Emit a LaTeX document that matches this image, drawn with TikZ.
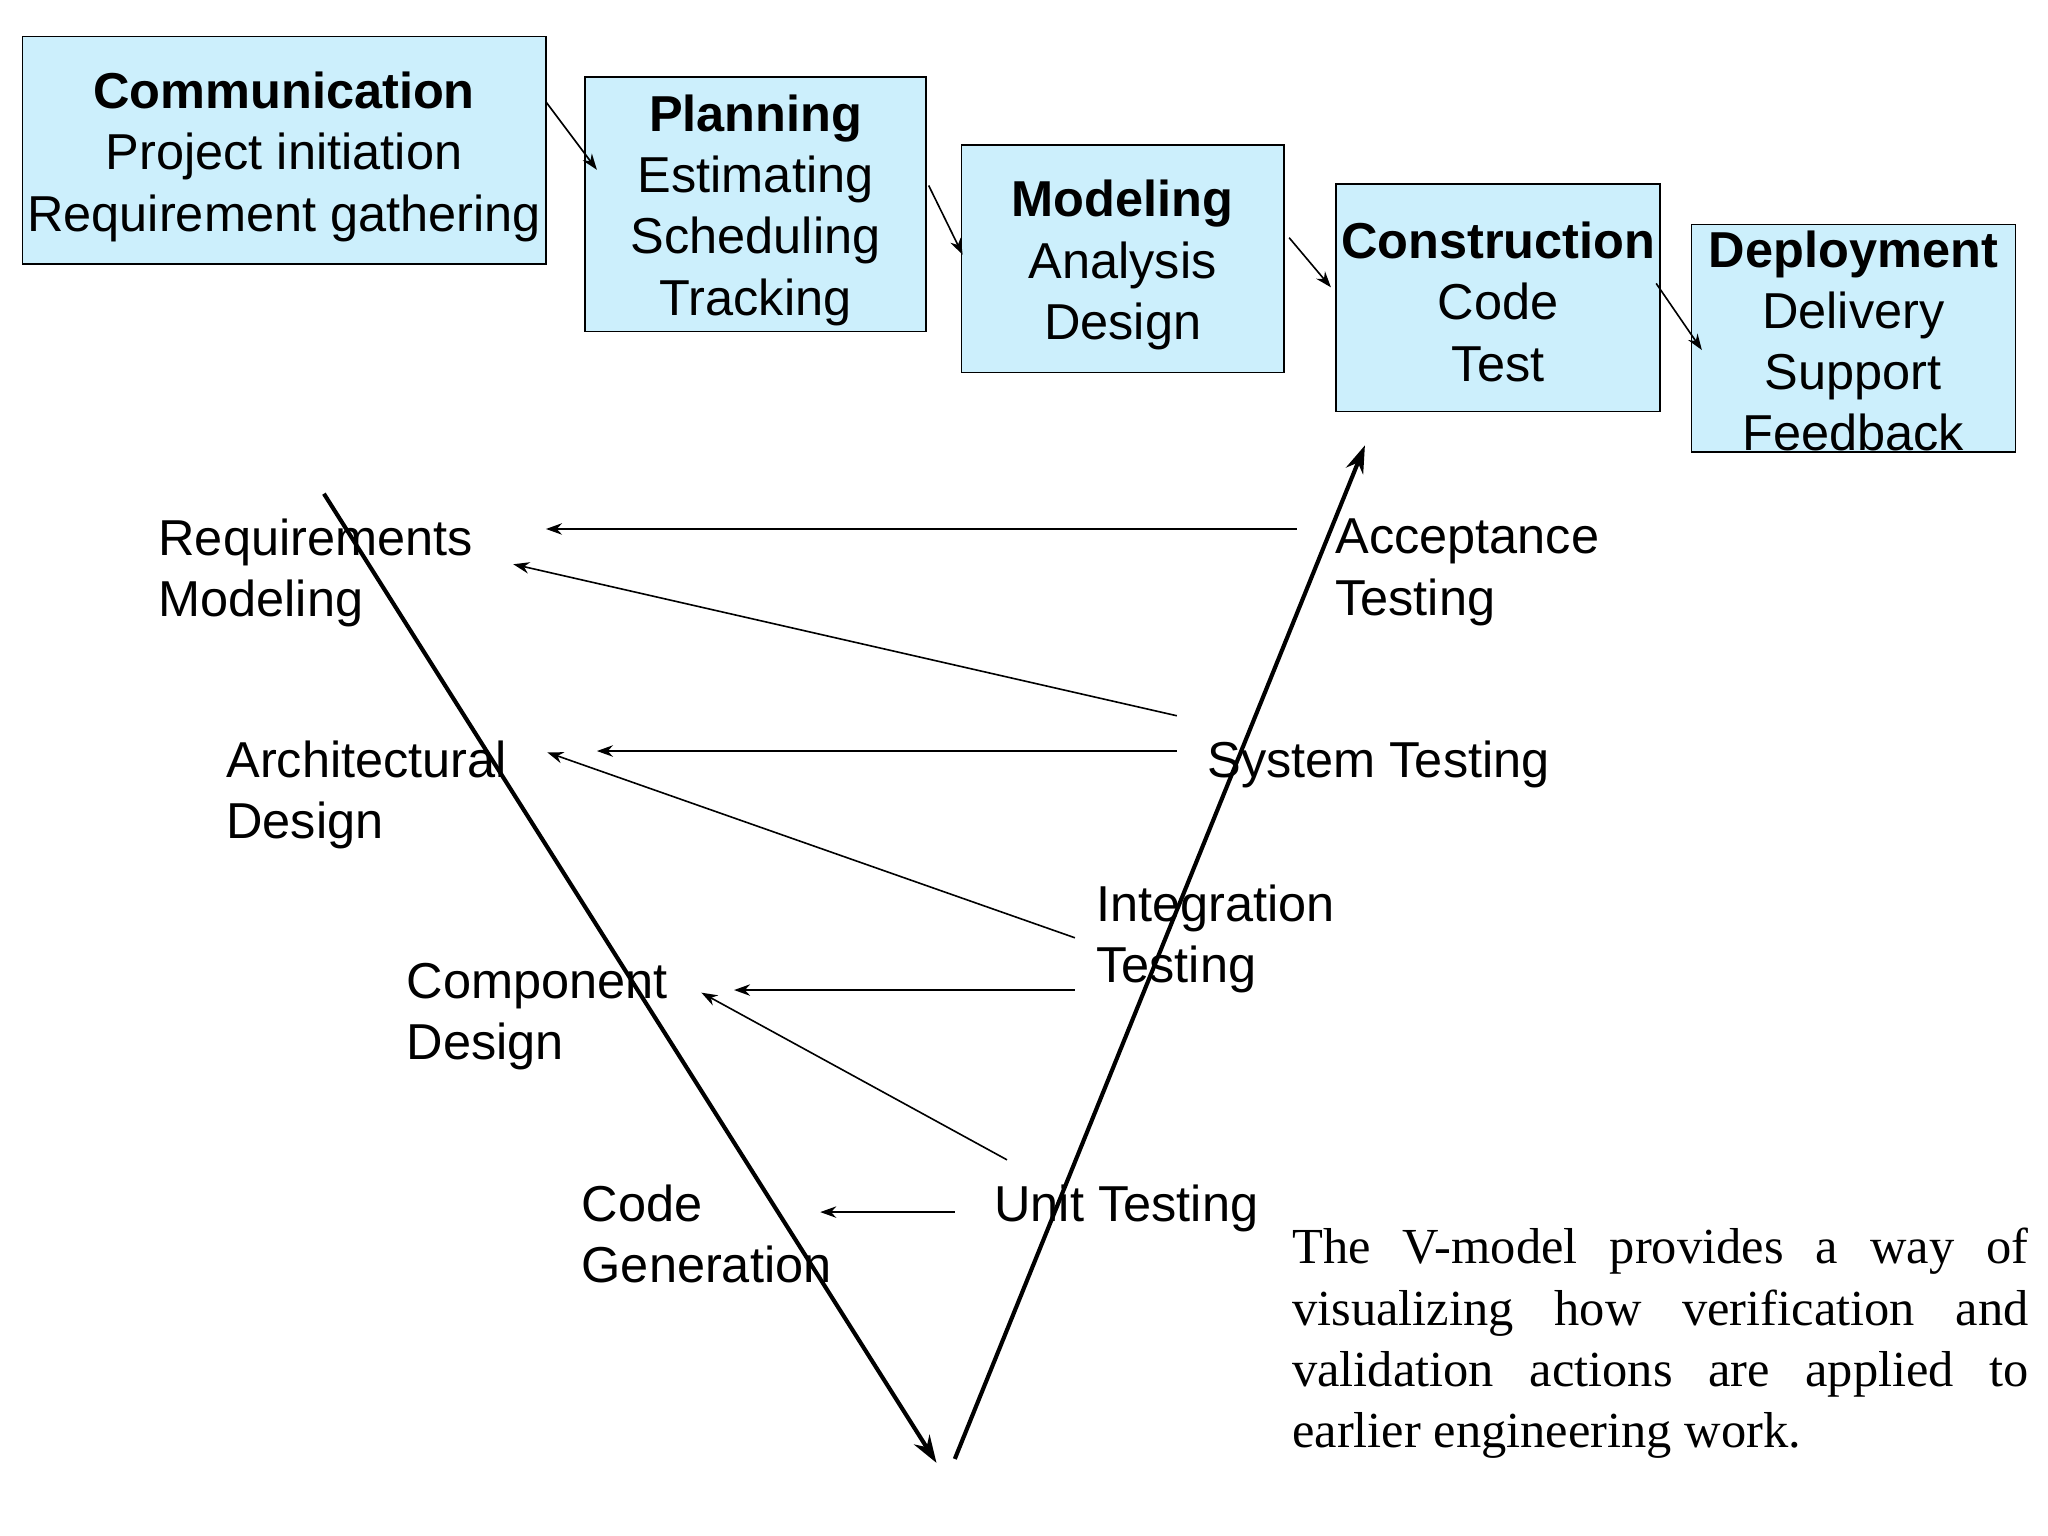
\documentclass[tikz,border=0pt]{standalone}
\usepackage{fontspec}
\setmainfont{Liberation Sans}
\newfontfamily\timesf{Liberation Serif}
\usetikzlibrary{arrows.meta}
\begin{document}
\begin{tikzpicture}[x=0.02cm,y=-0.02cm,
  box/.style={draw=black,fill=cyan!20,line width=0.6pt,inner sep=0pt,align=center,
    font=\fontsize{22}{26.7}\selectfont},
  lbl/.style={anchor=north west,inner sep=0pt,align=left,font=\fontsize{22}{26.7}\selectfont},
  sarr/.style={-{Stealth[length=7pt,width=5pt]},line width=0.7pt},
  varr/.style={-{Stealth[length=12pt,width=8pt]},line width=1.8pt}]
\useasboundingbox (0,0) rectangle (1568,1176);
\node[box,minimum width=401*0.02cm,minimum height=174*0.02cm] (comm) at (217.5,115) {};
\node[box,minimum width=261*0.02cm,minimum height=195*0.02cm] (plan) at (578.5,156.5) {};
\node[box,minimum width=247*0.02cm,minimum height=174*0.02cm] (model) at (859.5,198) {};
\node[box,minimum width=248*0.02cm,minimum height=174*0.02cm] (cons) at (1147,228) {};
\node[box,minimum width=248*0.02cm,minimum height=174*0.02cm] (dep) at (1419,259) {};
\node[box,draw=none,fill=none] (commt) at (217.5,120) {\textbf{Communication}\\Project initiation\\Requirement gathering};
\node[box,draw=none,fill=none] (plant) at (578.5,161) {\textbf{Planning}\\Estimating\\Scheduling\\Tracking};
\node[box,draw=none,fill=none] (modelt) at (859.5,203) {\textbf{Modeling}\\Analysis\\Design};
\node[box,draw=none,fill=none] (const) at (1147,231) {\textbf{Construction}\\Code\\Test};
\node[box,draw=none,fill=none] (dept) at (1419,261) {\textbf{Deployment}\\Delivery\\Support\\Feedback};
\draw[sarr] (418,78) -- (457,130);
\draw[sarr] (711,142) -- (737,195);
\draw[sarr] (987,182) -- (1019,220);
\draw[sarr] (1268,217) -- (1303,268);
% labels
\node[lbl] (req) at (121,397) {Requirements\\Modeling};
\node[lbl] (arch) at (173,567) {Architectural\\Design};
\node[lbl] (comp) at (311,737) {Component\\Design};
\node[lbl] (code) at (445,907) {Code\\Generation};
\node[lbl] (acc) at (1022,397) {Acceptance\\Testing};
\node[lbl] (sys) at (924,567) {System Testing};
\node[lbl] (integ) at (839,677) {Integration\\Testing};
\node[lbl] (unit) at (761,907) {Unit Testing};
% V
\coordinate (v1) at (248,378); \coordinate (v2) at (717,1120);
\coordinate (v3) at (731,1117); \coordinate (v4) at (1045,341);
\draw[varr] (v1) -- (v2);
\draw[varr] (v3) -- (v4);
% arrows
\coordinate (a1) at (993,405); \coordinate (b1) at (418,405);
\coordinate (a2) at (901,548); \coordinate (b2) at (393,432);
\coordinate (a3) at (901,575); \coordinate (b3) at (457,575);
\coordinate (a4) at (823,718); \coordinate (b4) at (419,576);
\coordinate (a5) at (823,758); \coordinate (b5) at (562,758);
\coordinate (a6) at (771,888); \coordinate (b6) at (537,760);
\coordinate (a7) at (731,928); \coordinate (b7) at (628,928);
\foreach \i in {1,...,7} \draw[sarr] (a\i) -- (b\i);
\node[anchor=north west,inner sep=0pt,align=left,
  font=\timesf\fontsize{22}{26.7}\selectfont] (para) at (989,940)
  {\makebox[11.28cm][s]{The V-model provides a way of}\\
   \makebox[11.28cm][s]{visualizing how verification and}\\
   \makebox[11.28cm][s]{validation actions are applied to}\\
   earlier engineering work.};
\end{tikzpicture}
\end{document}
